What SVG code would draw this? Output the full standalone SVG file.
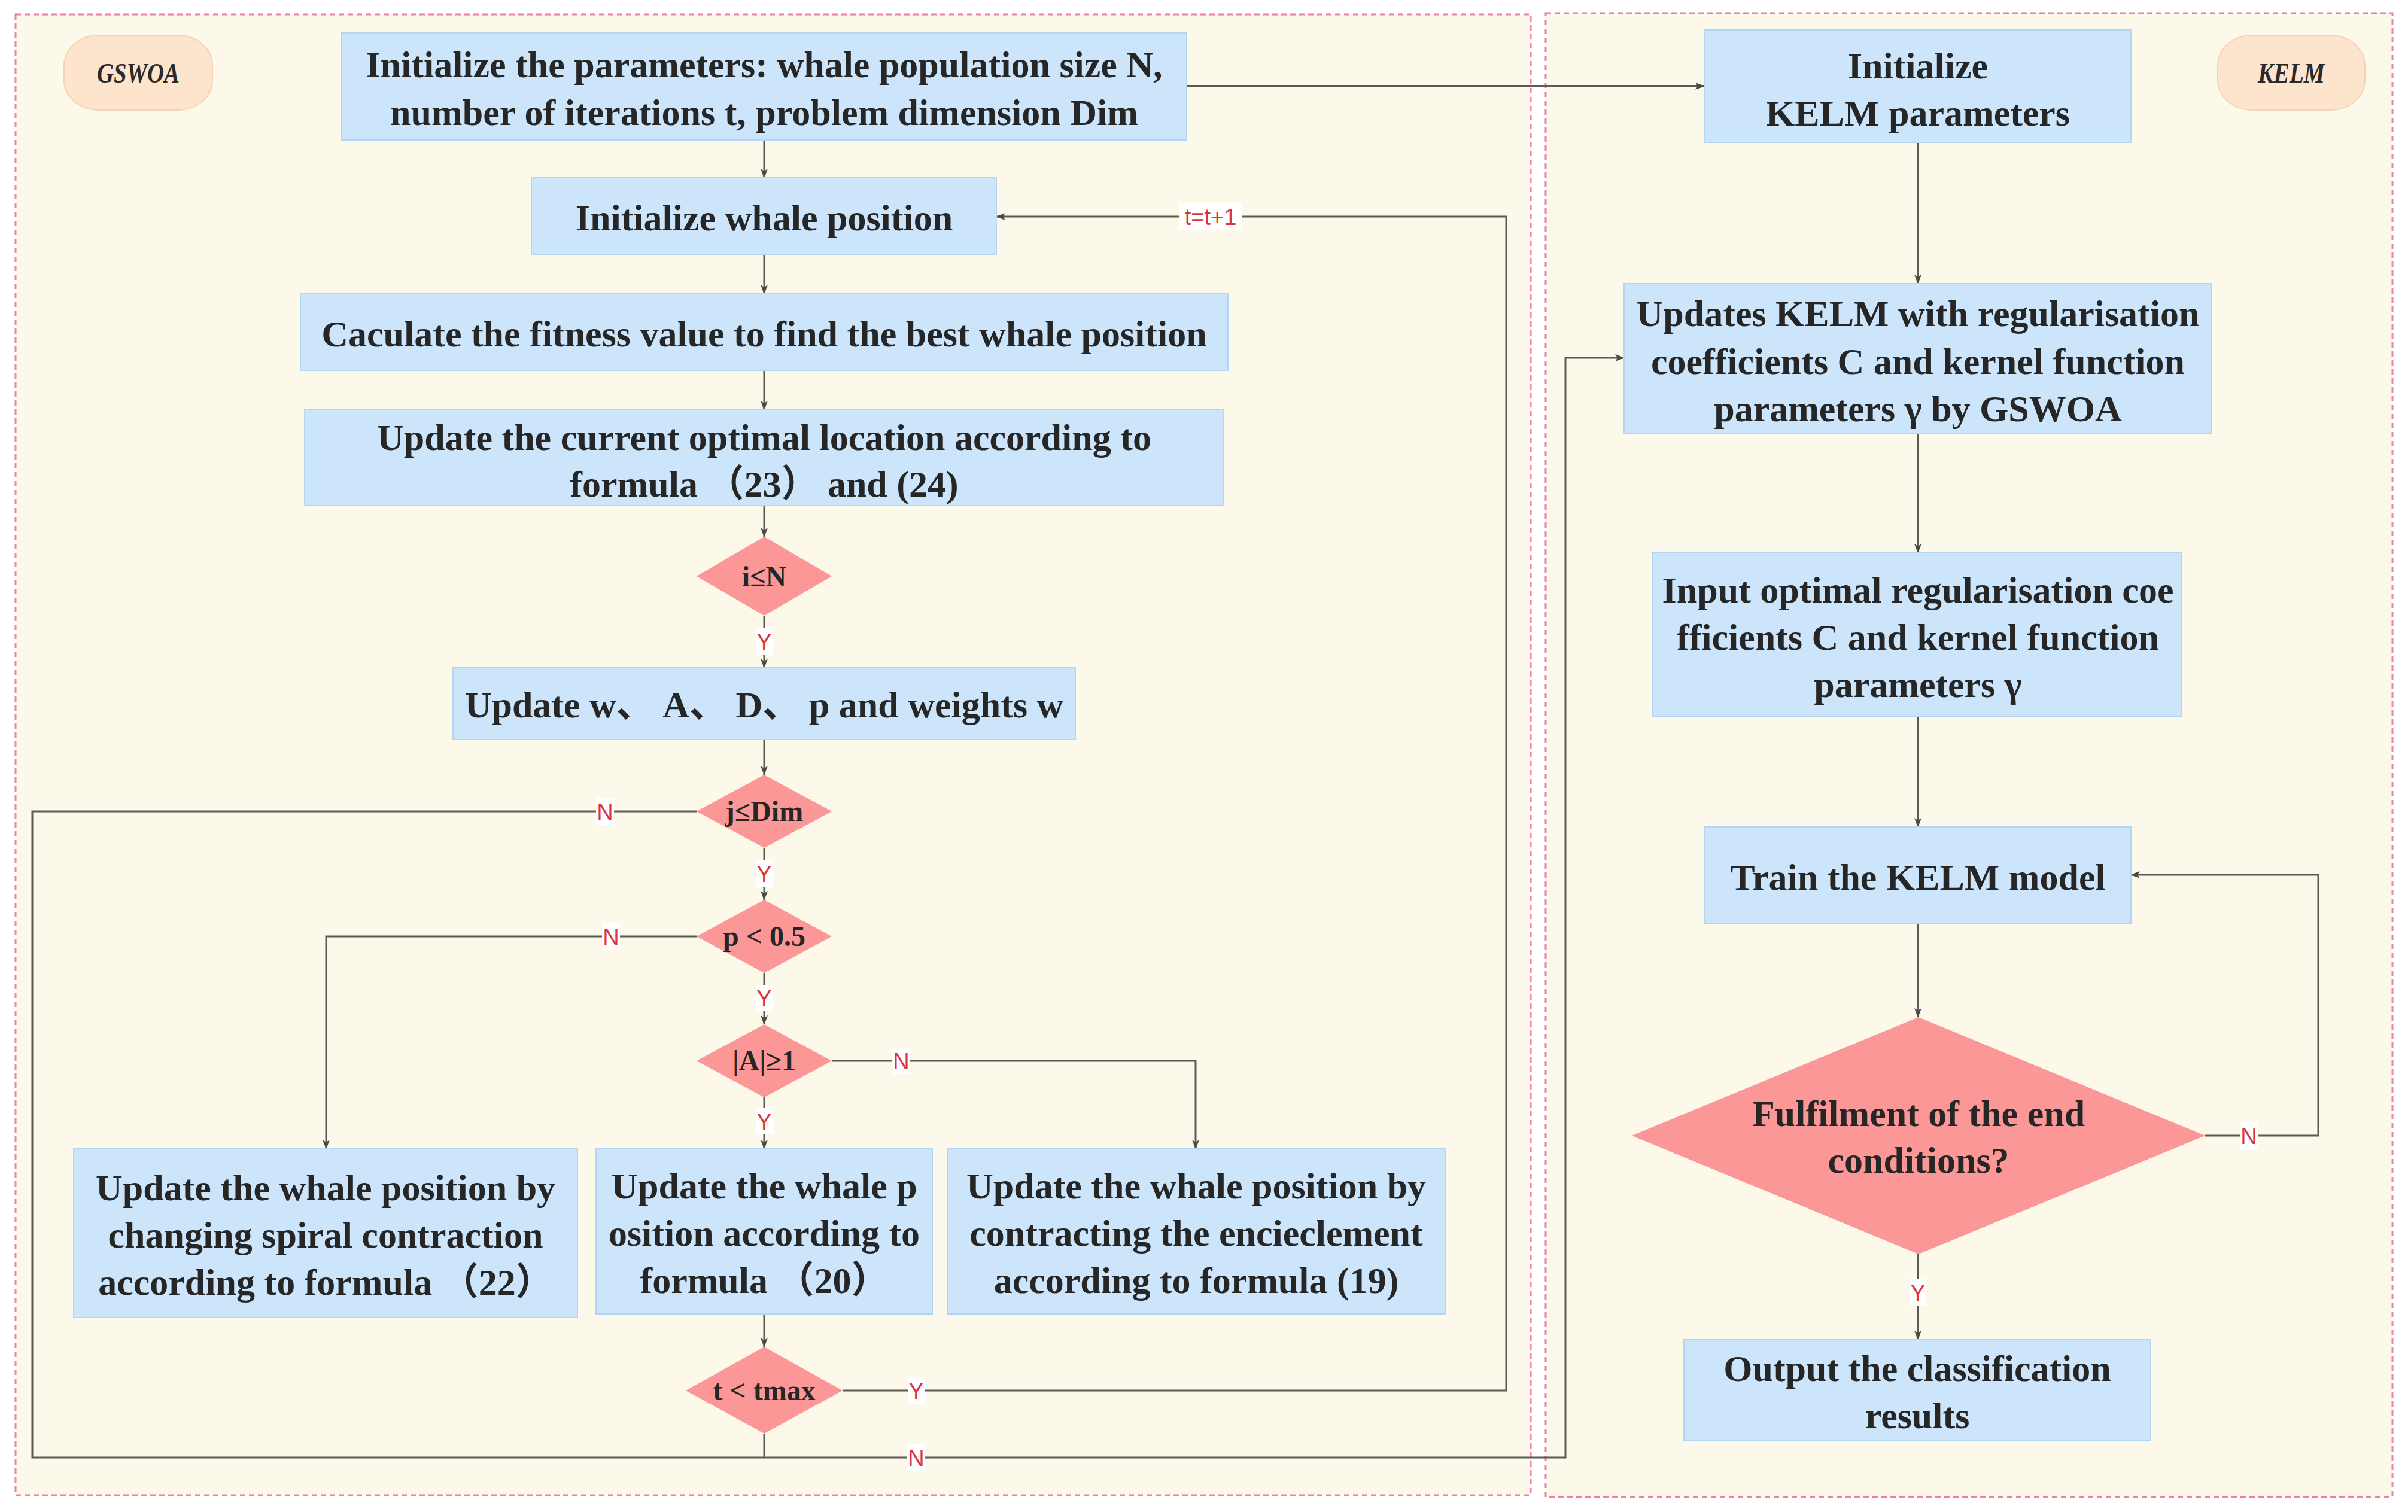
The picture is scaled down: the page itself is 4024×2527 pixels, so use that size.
<svg xmlns="http://www.w3.org/2000/svg" width="4024" height="2527" viewBox="0 0 4024 2527">
<defs>
<style>
.panel{fill:#FCF8EA;stroke:#EC7FA8;stroke-width:3;stroke-dasharray:9 6}
.pill{fill:#FDE4CC;stroke:#F7D3B5;stroke-width:2}
.pilltx{font-family:"Liberation Serif",serif;font-style:italic;font-weight:bold;font-size:46px;fill:#2a2a2a;text-anchor:middle}
.box{fill:#CCE5FB;stroke:#B5D6F3;stroke-width:2}
.dia{fill:#FC9797;stroke:none}
.tx{font-family:"Liberation Serif","Noto Sans CJK SC",serif;font-weight:bold;font-size:62px;fill:#262626;text-anchor:middle}
.dtx{font-family:"Liberation Serif",serif;font-weight:bold;font-size:48px;fill:#262626;text-anchor:middle}
.ln{fill:none;stroke:#5b5b52;stroke-width:3}
.lbg{fill:#ffffff}
.lab{font-family:"Liberation Sans",sans-serif;font-size:38px;fill:#D9343F;text-anchor:middle}
</style>
<marker id="arr" markerUnits="userSpaceOnUse" markerWidth="16" markerHeight="12" refX="15" refY="6" orient="auto">
<path d="M0,0 L16,6 L0,12 L4,6 Z" fill="#4a4a44"/>
</marker>
</defs>
<rect x="0" y="0" width="4024" height="2527" fill="#ffffff"/>
<g id="panel-gswoa">
<rect class="panel" x="26" y="24" width="2532" height="2475"/>
<rect class="pill" x="107" y="59" width="248" height="125" rx="58" ry="50"/>
<text class="pilltx" x="231" y="138" textLength="138" lengthAdjust="spacingAndGlyphs">GSWOA</text>
</g>
<g id="panel-kelm">
<rect class="panel" x="2583" y="22" width="1415" height="2480"/>
<rect class="pill" x="3706" y="59" width="246" height="125" rx="58" ry="50"/>
<text class="pilltx" x="3829" y="138" textLength="112" lengthAdjust="spacingAndGlyphs">KELM</text>
</g>

<g id="connectors">
<path class="ln" d="M1277 234 V297" marker-end="url(#arr)"/>
<path class="ln" d="M1277 425 V491" marker-end="url(#arr)"/>
<path class="ln" d="M1277 619 V685" marker-end="url(#arr)"/>
<path class="ln" d="M1277 845 V897" marker-end="url(#arr)"/>
<path class="ln" d="M1277 1029 V1116" marker-end="url(#arr)"/>
<path class="ln" d="M1277 1236 V1295" marker-end="url(#arr)"/>
<path class="ln" d="M1277 1417 V1504" marker-end="url(#arr)"/>
<path class="ln" d="M1277 1626 V1712" marker-end="url(#arr)"/>
<path class="ln" d="M1277 1834 V1920" marker-end="url(#arr)"/>
<path class="ln" d="M1165 1565 H545 V1920" marker-end="url(#arr)"/>
<path class="ln" d="M1390 1773 H1998 V1920" marker-end="url(#arr)"/>
<path class="ln" d="M1277 2196 V2251" marker-end="url(#arr)"/>
<path class="ln" d="M1408 2324 H2517 V362 H1665" marker-end="url(#arr)"/>
<path class="ln" d="M1165 1356 H54 V2436 H1277"/>
<path class="ln" d="M1277 2396 V2436 H2616 V598 H2714" marker-end="url(#arr)"/>
<path class="ln" d="M1983 144 H2848" style="stroke-width:4" marker-end="url(#arr)"/>
<path class="ln" d="M3205 238 V474" marker-end="url(#arr)"/>
<path class="ln" d="M3205 724 V924" marker-end="url(#arr)"/>
<path class="ln" d="M3205 1198 V1382" marker-end="url(#arr)"/>
<path class="ln" d="M3205 1544 V1700" marker-end="url(#arr)"/>
<path class="ln" d="M3685 1898 H3874 V1462 H3561" marker-end="url(#arr)"/>
<path class="ln" d="M3205 2096 V2239" marker-end="url(#arr)"/>
<g id="connector-labels">
<rect class="lbg" x="1263" y="1050" width="28" height="44"/><text class="lab" x="1277" y="1086">Y</text>
<rect class="lbg" x="1263" y="1438" width="28" height="44"/><text class="lab" x="1277" y="1474">Y</text>
<rect class="lbg" x="1263" y="1646" width="28" height="44"/><text class="lab" x="1277" y="1682">Y</text>
<rect class="lbg" x="1263" y="1852" width="28" height="44"/><text class="lab" x="1277" y="1888">Y</text>
<rect class="lbg" x="996" y="1334" width="30" height="44"/><text class="lab" x="1011" y="1370">N</text>
<rect class="lbg" x="1006" y="1543" width="30" height="44"/><text class="lab" x="1021" y="1579">N</text>
<rect class="lbg" x="1491" y="1751" width="30" height="44"/><text class="lab" x="1506" y="1787">N</text>
<rect class="lbg" x="1517" y="2302" width="28" height="44"/><text class="lab" x="1531" y="2338">Y</text>
<rect class="lbg" x="1516" y="2414" width="30" height="44"/><text class="lab" x="1531" y="2450">N</text>
<rect class="lbg" x="1970" y="340" width="106" height="44"/><text class="lab" x="2023" y="376">t=t+1</text>
<rect class="lbg" x="3743" y="1876" width="30" height="44"/><text class="lab" x="3758" y="1912">N</text>
<rect class="lbg" x="3191" y="2138" width="28" height="44"/><text class="lab" x="3205" y="2174">Y</text>
</g>
</g>

<g id="init-params">
<rect class="box" x="571" y="55" width="1412" height="179"/>
<text class="tx"><tspan x="1277" y="129">Initialize the parameters: whale population size N,</tspan><tspan x="1277" y="209">number of iterations t, problem dimension Dim</tspan></text>
</g>
<g id="init-position">
<rect class="box" x="888" y="297" width="777" height="128"/>
<text class="tx" x="1277" y="385">Initialize whale position</text>
</g>
<g id="fitness">
<rect class="box" x="502" y="491" width="1550" height="128"/>
<text class="tx" x="1277" y="579">Caculate the fitness value to find the best whale position</text>
</g>
<g id="update-optimal">
<rect class="box" x="509" y="685" width="1536" height="160"/>
<text class="tx"><tspan x="1277" y="752">Update the current optimal location according to</tspan><tspan x="1277" y="830">formula （23） and (24)</tspan></text>
</g>
<g id="cond-i">
<polygon class="dia" points="1277,897 1390,963 1277,1029 1164,963"/>
<text class="dtx" x="1277" y="980">i≤N</text>
</g>
<g id="update-w">
<rect class="box" x="757" y="1116" width="1040" height="120"/>
<text class="tx" x="1277" y="1199">Update w、 A、 D、 p and weights w</text>
</g>
<g id="cond-j">
<polygon class="dia" points="1277,1295 1390,1356 1277,1417 1164,1356"/>
<text class="dtx" x="1277" y="1372">j≤Dim</text>
</g>
<g id="cond-p">
<polygon class="dia" points="1277,1504 1390,1565 1277,1626 1164,1565"/>
<text class="dtx" x="1277" y="1581">p &lt; 0.5</text>
</g>
<g id="cond-a">
<polygon class="dia" points="1277,1712 1390,1773 1277,1834 1164,1773"/>
<text class="dtx" x="1277" y="1789">|A|≥1</text>
</g>
<g id="spiral">
<rect class="box" x="123" y="1920" width="842" height="282"/>
<text class="tx"><tspan x="544" y="2006">Update the whale position by</tspan><tspan x="544" y="2085">changing spiral contraction</tspan><tspan x="544" y="2164">according to formula （22）</tspan></text>
</g>
<g id="formula20">
<rect class="box" x="996" y="1920" width="562" height="276"/>
<text class="tx"><tspan x="1277" y="2003">Update the whale p</tspan><tspan x="1277" y="2082">osition according to</tspan><tspan x="1277" y="2161">formula （20）</tspan></text>
</g>
<g id="encirclement">
<rect class="box" x="1583" y="1920" width="832" height="276"/>
<text class="tx"><tspan x="1999" y="2003">Update the whale position by</tspan><tspan x="1999" y="2082">contracting the encieclement</tspan><tspan x="1999" y="2161">according to formula (19)</tspan></text>
</g>
<g id="cond-t">
<polygon class="dia" points="1277,2251 1408,2324 1277,2396 1146,2324"/>
<text class="dtx" x="1277" y="2340">t &lt; tmax</text>
</g>

<g id="kelm-init">
<rect class="box" x="2848" y="50" width="713" height="188"/>
<text class="tx"><tspan x="3205" y="131">Initialize</tspan><tspan x="3205" y="210">KELM parameters</tspan></text>
</g>
<g id="kelm-update">
<rect class="box" x="2714" y="474" width="981" height="250"/>
<text class="tx"><tspan x="3205" y="545">Updates KELM with regularisation</tspan><tspan x="3205" y="625">coefficients C and kernel function</tspan><tspan x="3205" y="704">parameters γ by GSWOA</tspan></text>
</g>
<g id="kelm-input">
<rect class="box" x="2762" y="924" width="884" height="274"/>
<text class="tx"><tspan x="3205" y="1007">Input optimal regularisation coe</tspan><tspan x="3205" y="1086">fficients C and kernel function</tspan><tspan x="3205" y="1165">parameters γ</tspan></text>
</g>
<g id="kelm-train">
<rect class="box" x="2848" y="1382" width="713" height="162"/>
<text class="tx" x="3205" y="1487">Train the KELM model</text>
</g>
<g id="kelm-end">
<polygon class="dia" points="3206,1700 3685,1898 3206,2096 2727,1898"/>
<text class="tx"><tspan x="3206" y="1882">Fulfilment of the end</tspan><tspan x="3206" y="1960">conditions?</tspan></text>
</g>
<g id="kelm-output">
<rect class="box" x="2814" y="2239" width="780" height="168"/>
<text class="tx"><tspan x="3204" y="2308">Output the classification</tspan><tspan x="3204" y="2387">results</tspan></text>
</g>
</svg>
